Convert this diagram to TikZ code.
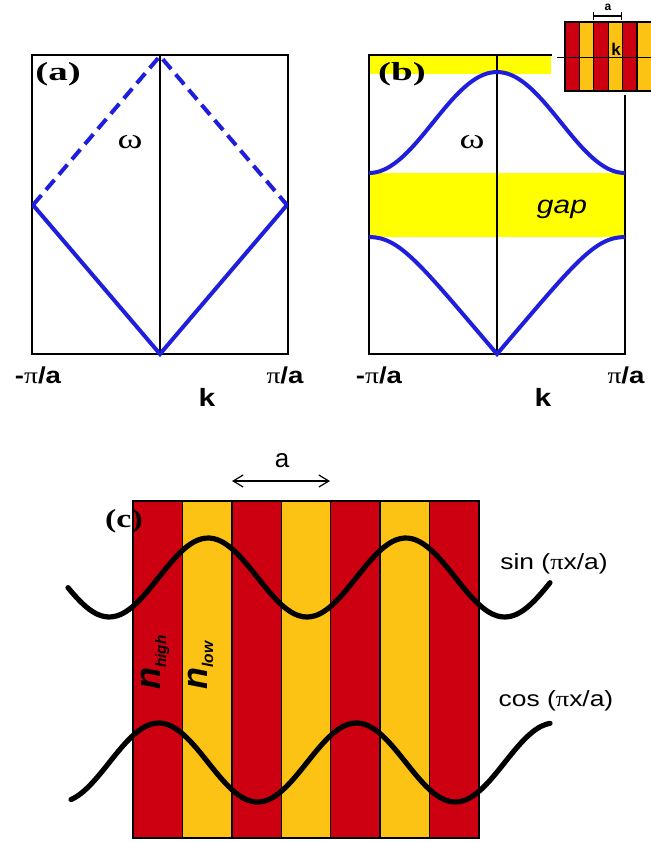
\documentclass[tikz,border=0pt]{standalone}
\usepackage{fontspec}
\setmainfont{Liberation Serif}
\setsansfont{Liberation Sans}
\usepackage{graphicx}
\usetikzlibrary{arrows.meta}

\definecolor{stripered}{RGB}{204,0,16}
\definecolor{stripeyel}{RGB}{252,194,20}
\definecolor{gapyel}{RGB}{255,255,0}
\definecolor{bandblue}{RGB}{30,30,220}

% horizontal stretch of a label
\newcommand{\wider}[2]{\scalebox{#1}[1]{#2}}
\newcommand{\piserif}{{\rmfamily\mdseries π}}

\tikzset{
  frame/.style={draw=black, line width=0.8pt},
  bandline/.style={draw=bandblue, line width=2pt},
  wave/.style={draw=black, line width=2.6pt, line cap=round},
  redstripe/.style={fill=stripered, draw=black, line width=0.75pt},
  yelstripe/.style={fill=stripeyel, draw=black, line width=0.75pt},
  panellbl/.style={font=\rmfamily\bfseries\fontsize{13}{15}\selectfont, inner sep=0pt},
  omegalbl/.style={font=\rmfamily\fontsize{14}{15}\selectfont, inner sep=0pt},
  axlbl/.style={font=\sffamily\bfseries\fontsize{11.5}{13}\selectfont, inner sep=0pt},
  klbl/.style={font=\sffamily\bfseries\fontsize{12.5}{14}\selectfont, inner sep=0pt},
  funclbl/.style={font=\sffamily\fontsize{11}{13}\selectfont, inner sep=0pt},
  nlbl/.style={font=\sffamily\bfseries\itshape\fontsize{18}{18}\selectfont, inner sep=0pt, rotate=90, anchor=base west},
}

\begin{document}
\begin{tikzpicture}[x=0.5pt, y=-0.5pt]
      \useasboundingbox (0,0) rectangle (650,842);

      % (a) empty lattice
      \draw[frame] (32,55) rectangle (288,354);
      \draw[frame] (160,55) -- (160,354);
      \coordinate (aT) at (160,56);
      \coordinate (aL) at (33,205);
      \coordinate (aR) at (287,205);
      \coordinate (aB) at (160,354);
      \draw[bandline, dash pattern=on 6.5pt off 3.5pt] (aL) -- (aT) -- (aR);
      \draw[bandline] (aL) -- (aB) -- (aR);
      \node[panellbl] (lbla) at (58,74) {\wider{1.5}{(a)}};
      \node[omegalbl] (wa) at (130,142) {\wider{1.35}{ω}};
      \node[axlbl] (kla) at (38,375) {\wider{1.2}{-\piserif/a}};
      \node[axlbl] (kra) at (285,375) {\wider{1.2}{\piserif/a}};
      \node[klbl] (ka) at (207,397) {\wider{1.2}{k}};

      % (b) photonic crystal
      \fill[gapyel] (369,55) rectangle (551,74);
      \fill[gapyel] (369,173) rectangle (625,237);
      \draw[frame] (369,55) rectangle (625,354);
      \draw[frame] (497,55) -- (497,354);
      \draw[bandline] plot[domain=-1:1, samples=60, smooth] ({497+128*\x}, {173-50.5*(1+cos(180*\x))});
      \draw[bandline] (369,237) .. controls (400,237) and (420,264) .. (497,354)
                                .. controls (574,264) and (594,237) .. (625,237);
      \node[panellbl] (lblb) at (402,74) {\wider{1.5}{(b)}};
      \node[omegalbl] (wb) at (472,142) {\wider{1.35}{ω}};
      \node[font=\sffamily\itshape\fontsize{12.5}{14}\selectfont, inner sep=0pt, anchor=base] (gap) at (562,213) {\wider{1.2}{gap}};
      \node[axlbl] (klb) at (379,375) {\wider{1.2}{-\piserif/a}};
      \node[axlbl] (krb) at (626,375) {\wider{1.2}{\piserif/a}};
      \node[klbl] (kb) at (543,397) {\wider{1.2}{k}};

      % inset: crystal with k axis
      \fill[white] (552,0) rectangle (650,95);
      \foreach \i/\c in {0/redstripe,1/yelstripe,2/redstripe,3/yelstripe,4/redstripe,5/yelstripe}
        \draw[\c, line width=0.6pt] ({565+14.4*\i},22) rectangle ({579.4+14.4*\i},91);
      \draw[line width=0.9pt] (565,22) rectangle (653,91);
      \draw[line width=0.5pt] (557,57) -- (653,57);
      \node[font=\sffamily\bfseries\fontsize{8.5}{9}\selectfont, inner sep=0pt] (kin) at (616,49) {k};
      \coordinate (ia1) at (593,16);
      \coordinate (ia2) at (622,16);
      \draw[line width=0.6pt, {Bar[width=4pt]}-{Bar[width=4pt]}] (ia1) -- (ia2);
      \node[font=\sffamily\bfseries\fontsize{6}{6}\selectfont, inner sep=0pt] (ain) at (608,7) {a};

      % (c) stripes and standing waves
      \foreach \i in {0,...,6} {
        \pgfmathsetmacro{\xa}{133+49.43*\i}
        \pgfmathsetmacro{\xb}{\xa+49.43}
        \ifodd\i
          \draw[yelstripe] (\xa,501) rectangle (\xb,838);
        \else
          \draw[redstripe] (\xa,501) rectangle (\xb,838);
        \fi
      }
      \draw[line width=1pt] (133,501) rectangle (479,838);
      \coordinate (ca1) at (232,481);
      \coordinate (ca2) at (330,481);
      \draw[line width=0.6pt, {Straight Barb[length=5pt,width=6pt]}-{Straight Barb[length=5pt,width=6pt]}] (ca1) -- (ca2);
      \node[font=\sffamily\fontsize{13}{14}\selectfont, inner sep=0pt] (ac) at (282,461) {a};
      \node[panellbl] (lblc) at (124,521) {\wider{1.3}{(c)}};

      \draw[wave] plot[domain=68:550, samples=120, smooth] (\x, {577.5-39.5*sin(((\x-158.7)/98.86)*180)});
      \draw[wave] plot[domain=71:550, samples=120, smooth] (\x, {762.5-39.5*cos(((\x-158.7)/98.86)*180)});
      \node[funclbl] (sinl) at (554,564) {\wider{1.2}{sin (\piserif x/a)}};
      \node[funclbl] (cosl) at (556,701) {\wider{1.2}{cos (\piserif x/a)}};

      \node[nlbl] (nhigh) at (160,690) {n\raisebox{-3pt}{\fontsize{7.6}{8}\selectfont high}};
      \node[nlbl] (nlow) at (207,690) {n\raisebox{-3pt}{\fontsize{7.8}{8}\selectfont low}};
    \end{tikzpicture}
\end{document}
